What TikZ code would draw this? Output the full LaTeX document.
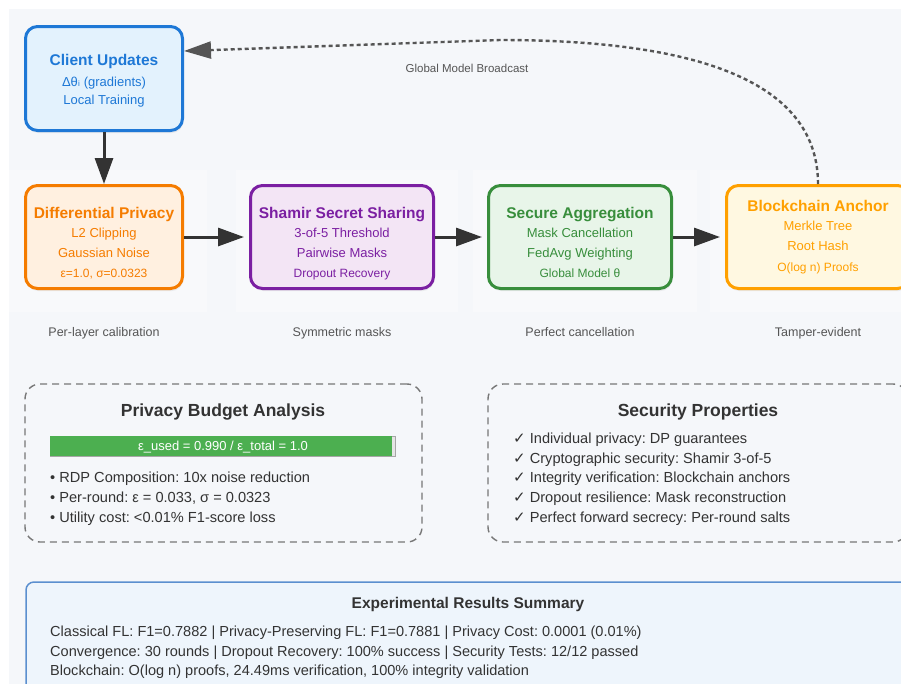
\documentclass[tikz,border=0pt]{standalone}
\usepackage{fontspec}
\setmainfont{Liberation Sans}
\newfontfamily\dejavu{DejaVu Sans}
\usetikzlibrary{arrows.meta,shadows}
\frenchspacing
\definecolor{bgc}{HTML}{F5F7FA}
\definecolor{regc}{HTML}{F8F9FB}
\definecolor{cublue}{HTML}{1E78D6}
\definecolor{cufill}{HTML}{E3F2FD}
\definecolor{dporange}{HTML}{F57C00}
\definecolor{dpfill}{HTML}{FFF0E0}
\definecolor{sspurple}{HTML}{7B1FA2}
\definecolor{ssfill}{HTML}{F3E5F5}
\definecolor{sagreen}{HTML}{388E3C}
\definecolor{safill}{HTML}{E8F5E9}
\definecolor{bcamber}{HTML}{FFA000}
\definecolor{bcfill}{HTML}{FFF8E1}
\definecolor{arrowc}{HTML}{333333}
\definecolor{dotc}{HTML}{555555}
\definecolor{capc}{HTML}{555555}
\definecolor{panelc}{HTML}{777777}
\definecolor{darkt}{HTML}{333333}
\definecolor{barg}{HTML}{4CAF50}
\definecolor{resborder}{HTML}{5B8FCF}
\definecolor{resfill}{HTML}{EEF5FC}
\tikzset{
  stagebox/.style={rectangle, rounded corners=12pt, line width=3pt, inner sep=0pt,
    minimum height=103pt, drop shadow={shadow xshift=1pt, shadow yshift=-2.5pt, opacity=0.12}},
  txt/.style={anchor=base, inner sep=0pt},
  ttl/.style={txt, font=\fontsize{15.5}{18}\selectfont\bfseries},
  subl/.style={txt, font=\fontsize{13}{15}\selectfont},
  subsm/.style={txt, font=\fontsize{12}{14}\selectfont},
  capt/.style={txt, text=capc, font=\fontsize{12.5}{14}\selectfont},
  flowarrow/.style={line width=3pt, draw=arrowc, -{Triangle[length=26pt,width=18pt]}},
  panelbox/.style={rectangle, rounded corners=15pt, draw=panelc, line width=1.4pt,
    dash pattern=on 7pt off 5pt, inner sep=0pt},
  paneltitle/.style={txt, text=darkt, font=\fontsize{17.5}{20}\selectfont\bfseries},
  item/.style={anchor=base west, inner sep=0pt, text=darkt, font=\fontsize{14.6}{17}\selectfont},
  resline/.style={anchor=base west, inner sep=0pt, text=darkt, font=\fontsize{14.55}{17}\selectfont},
}
\newcommand\chkmark{{\dejavu\fontsize{15}{15}\selectfont ✓}}
\begin{document}
\begin{tikzpicture}[x=1pt,y=-1pt]
\useasboundingbox (0,0) rectangle (901,683);
\clip (0,0) rectangle (901,683);
\fill[white] (0,0) rectangle (901,683);
\fill[bgc] (9,9) rectangle (920,700);
% faint stage regions
\fill[regc] (9,170) rectangle (207,312);
\fill[regc] (236,170) rectangle (458,312);
\fill[regc] (473,170) rectangle (697,312);
\fill[regc] (710,170) rectangle (934,312);

% stage boxes
\node[stagebox, draw=cublue, fill=cufill, minimum width=157pt, minimum height=104pt] (cu) at (104,78.5) {};
\node[stagebox, draw=dporange, fill=dpfill, minimum width=157pt] (dp) at (104,237) {};
\node[stagebox, draw=sspurple, fill=ssfill, minimum width=183pt] (ss) at (342,237) {};
\node[stagebox, draw=sagreen, fill=safill, minimum width=183pt] (sa) at (580,237) {};
\node[stagebox, draw=bcamber, fill=bcfill, minimum width=183pt] (bc) at (818,237) {};

% texts in boxes
\node[ttl, text=cublue] (cu1) at (104,65.6) {Client Updates};
\node[subl, text=cublue] (cu2) at (104,86.7) {Δθ{\dejavu ᵢ} (gradients)};
\node[subl, text=cublue] (cu3) at (104,104.7) {Local Training};

\node[ttl, text=dporange] (dp1) at (104,218.6) {Differential Privacy};
\node[subl, text=dporange] (dp2) at (104,237.7) {L2 Clipping};
\node[subl, text=dporange] (dp3) at (104,257.7) {Gaussian Noise};
\node[subsm, text=dporange] (dp4) at (104,277.3) {ε=1.0, σ=0.0323};

\node[ttl, text=sspurple] (ss1) at (342,218.6) {Shamir Secret Sharing};
\node[subl, text=sspurple] (ss2) at (342,237.7) {3-of-5 Threshold};
\node[subl, text=sspurple] (ss3) at (342,257.7) {Pairwise Masks};
\node[subsm, text=sspurple] (ss4) at (342,277.3) {Dropout Recovery};

\node[ttl, text=sagreen] (sa1) at (580,218.6) {Secure Aggregation};
\node[subl, text=sagreen] (sa2) at (580,237.7) {Mask Cancellation};
\node[subl, text=sagreen] (sa3) at (580,257.7) {FedAvg Weighting};
\node[subsm, text=sagreen] (sa4) at (580,277.3) {Global Model θ};

\node[ttl, text=bcamber] (bc1) at (818,211.6) {Blockchain Anchor};
\node[subl, text=bcamber] (bc2) at (818,230.7) {Merkle Tree};
\node[subl, text=bcamber] (bc3) at (818,250.7) {Root Hash};
\node[subsm, text=bcamber] (bc4) at (818,271.3) {O(log n) Proofs};

% captions
\node[capt] (c1) at (104,336.5) {Per-layer calibration};
\node[capt] (c2) at (342,336.5) {Symmetric masks};
\node[capt] (c3) at (580,336.5) {Perfect cancellation};
\node[capt] (c4) at (818,336.5) {Tamper-evident};

% flow arrows
\draw[flowarrow] (cu.south) -- (dp.north);
\draw[flowarrow, shorten >=5pt] (dp.east) -- (ss.west);
\draw[flowarrow, shorten >=5pt] (ss.east) -- (sa.west);
\draw[flowarrow, shorten >=5pt] (sa.east) -- (bc.west);

% broadcast
\draw[draw=dotc, line width=2.4pt, dash pattern=on 4pt off 3pt,
  -{Triangle[length=27pt,width=17pt]}]
  (bc.north) .. controls (818,88) and (712,40) .. (500,40) -- ([yshift=27.5pt]cu.east);
\node[txt, text=capc, font=\fontsize{11.5}{14}\selectfont] (gmb) at (467,72.1) {Global Model Broadcast};

% privacy budget panel
\node[panelbox, minimum width=397pt, minimum height=158pt] (pba) at (223.5,463) {};
\node[paneltitle] (pbat) at (223,416.3) {Privacy Budget Analysis};
\node[rectangle, fill=gray!20, draw=gray!70, line width=0.8pt, minimum width=345pt, minimum height=20pt, inner sep=0pt] (bar) at (222.5,446) {};
\fill[barg] (bar.north west) rectangle ([xshift=-3.5pt]bar.south east);
\node[txt, text=white, font=\fontsize{13}{15}\selectfont] (bart) at (223,450.7) {ε\_used = 0.990 / ε\_total = 1.0};
\node[item] (pb1) at (50,482.2) {• RDP Composition: 10x noise reduction};
\node[item] (pb2) at (50,502.2) {• Per-round: ε = 0.033, σ = 0.0323};
\node[item] (pb3) at (50,522.2) {• Utility cost: <0.01\% F1-score loss};

% security properties panel
\node[panelbox, minimum width=420pt, minimum height=158pt] (sec) at (698,463) {};
\node[paneltitle] (sect) at (698,416.3) {Security Properties};
\node[item] (sp1) at (513,443.2) {\chkmark\ Individual privacy: DP guarantees};
\node[item] (sp2) at (513,463.2) {\chkmark\ Cryptographic security: Shamir 3-of-5};
\node[item] (sp3) at (513,482.2) {\chkmark\ Integrity verification: Blockchain anchors};
\node[item] (sp4) at (513,502.2) {\chkmark\ Dropout resilience: Mask reconstruction};
\node[item] (sp5) at (513,522.2) {\chkmark\ Perfect forward secrecy: Per-round salts};

% results panel
\node[rectangle, rounded corners=8pt, draw=resborder, fill=resfill, line width=1.5pt,
  minimum width=884pt, minimum height=130pt, inner sep=0pt] (res) at (468,647) {};
\node[txt, text=darkt, font=\fontsize{15.5}{18}\selectfont\bfseries] (rest) at (468,608.6) {Experimental Results Summary};
\node[resline] (r1) at (50,636) {Classical FL: F1=0.7882 | Privacy-Preserving FL: F1=0.7881 | Privacy Cost: 0.0001 (0.01\%)};
\node[resline] (r2) at (50,656) {Convergence: 30 rounds | Dropout Recovery: 100\% success | Security Tests: 12/12 passed};
\node[resline] (r3) at (50,675) {Blockchain: O(log n) proofs, 24.49ms verification, 100\% integrity validation};
\end{tikzpicture}
\end{document}
